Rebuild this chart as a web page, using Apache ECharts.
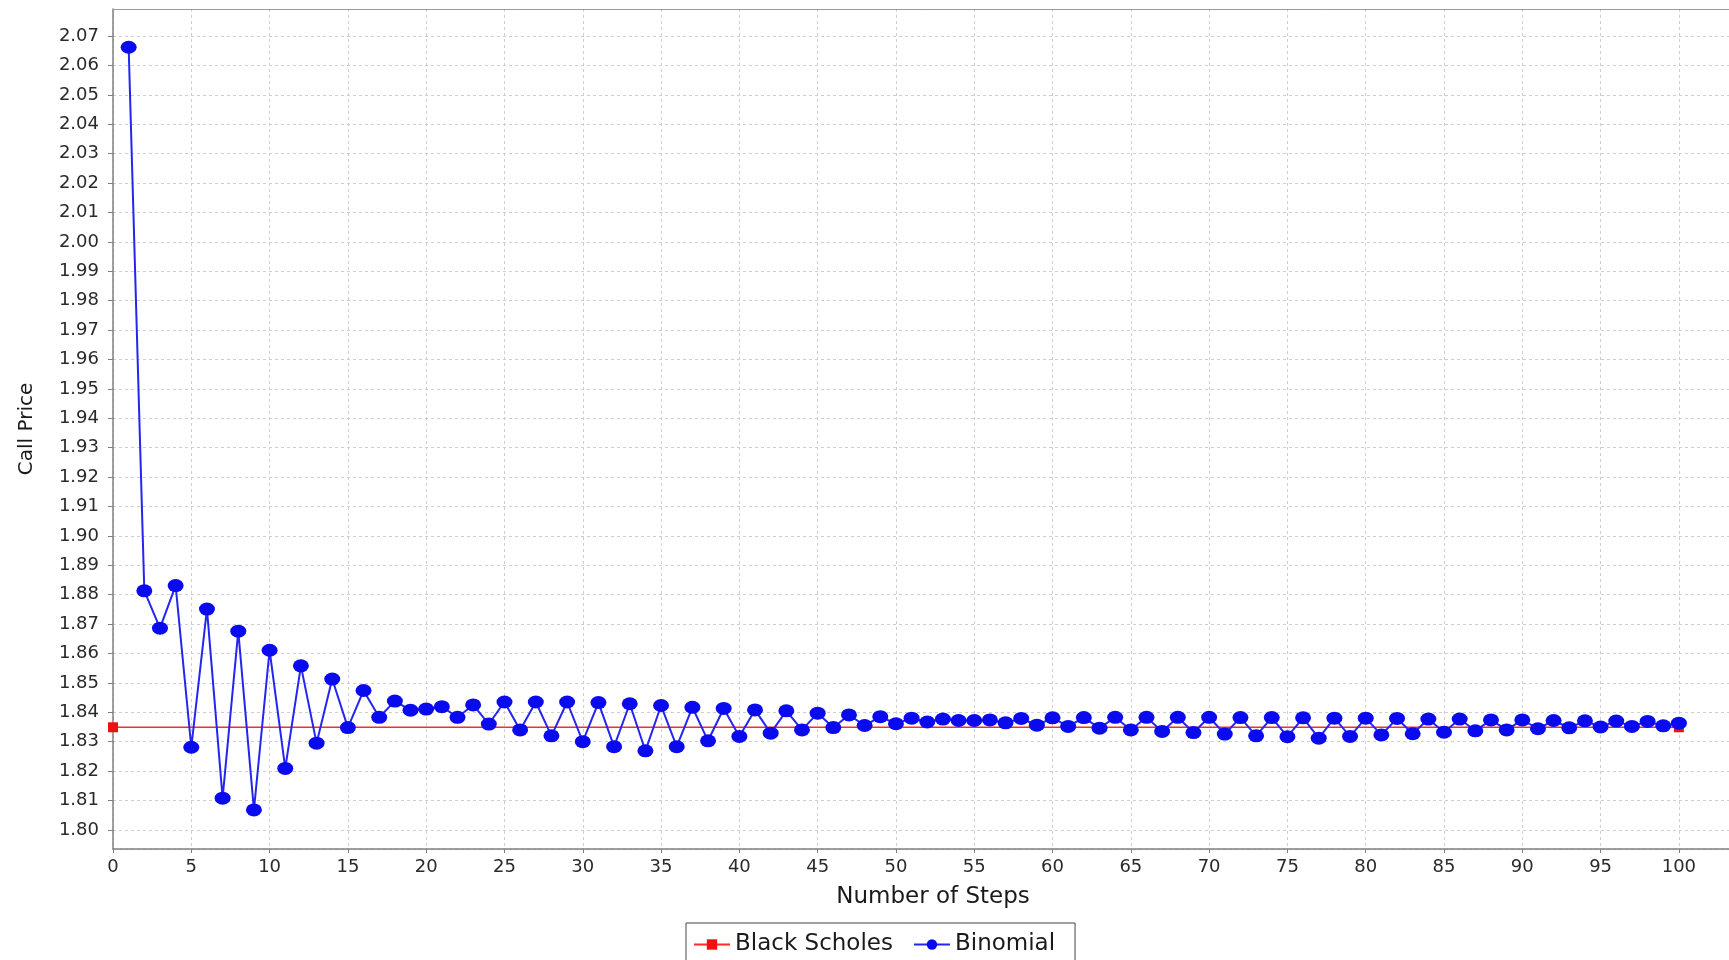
<!DOCTYPE html>
<html>
<head>
<meta charset="utf-8">
<script src="https://cdn.jsdelivr.net/npm/echarts@6/dist/echarts.min.js"></script>
<style>
html, body { margin: 0; padding: 0; background: #ffffff; }
#chart { width: 1729px; height: 960px; }
</style>
</head>
<body>
<div id="chart"></div>
<script>
// Binomial call price for number of steps 1..100
const binomialValues = [
  2.0662, 1.8813, 1.8686, 1.8831, 1.8281, 1.8751, 1.8108, 1.8676, 1.8068, 1.8611,
  1.8209, 1.8558, 1.8295, 1.8513, 1.8348, 1.8474, 1.8383, 1.8438, 1.8407, 1.8411,
  1.8419, 1.8383, 1.8425, 1.8360, 1.8435, 1.8340, 1.8435, 1.8320, 1.8435, 1.8300,
  1.8433, 1.8283, 1.8429, 1.8269, 1.8423, 1.8283, 1.8417, 1.8303, 1.8413, 1.8318,
  1.8408, 1.8329, 1.8405, 1.8340, 1.8397, 1.8348, 1.8391, 1.8355, 1.8385, 1.8361,
  1.8380, 1.8367, 1.8377, 1.8372, 1.8372, 1.8374, 1.8364, 1.8379, 1.8356, 1.8381,
  1.8352, 1.8382, 1.8346, 1.8383, 1.8340, 1.8383, 1.8335, 1.8383, 1.8331, 1.8383,
  1.8326, 1.8382, 1.8320, 1.8382, 1.8317, 1.8381, 1.8312, 1.8380, 1.8318, 1.8380,
  1.8323, 1.8379, 1.8327, 1.8377, 1.8332, 1.8377, 1.8337, 1.8374, 1.8340, 1.8374,
  1.8344, 1.8372, 1.8347, 1.8371, 1.8350, 1.8370, 1.8352, 1.8369, 1.8354, 1.8363
];
const firstStep = 1;

// Black Scholes reference price (flat line)
const blackScholesSteps = [0, 100];
const blackScholesValues = [1.8349, 1.8349];

const seriesNames = ['Black Scholes', 'Binomial'];
const xAxisTitle = 'Number of Steps';
const yAxisTitle = 'Call Price';

const binomialData = binomialValues.map((v, i) => [firstStep + i, v]);
const bsData = blackScholesSteps.map((s, i) => [s, blackScholesValues[i]]);

const FONT = 'DejaVu Sans';
const GRID_DASH = { color: '#cfcfcf', type: [3, 3], width: 1 };
const AXIS_COLOR = '#808080';
const chart = echarts.init(document.getElementById('chart'), null, { renderer: 'canvas' });

chart.setOption({
  backgroundColor: '#ffffff',
  animation: false,
  grid: {
    left: 113, right: 0, top: 9, bottom: 111,
    show: false
  },
  legend: {
    data: seriesNames,
    left: 686, top: 923,
    orient: 'horizontal',
    borderColor: '#444444', borderWidth: 1,
    padding: [10, 20, 10, 7],
    itemWidth: 36, itemHeight: 13, itemGap: 20,
    textStyle: { fontFamily: FONT, fontSize: 23, color: '#1a1a1a' }
  },
  xAxis: [
    {
      type: 'value',
      min: 0, max: 103.2, interval: 5,
      name: xAxisTitle,
      nameLocation: 'middle', nameGap: 37,
      nameTextStyle: { fontFamily: FONT, fontSize: 23, color: '#1a1a1a', padding: [0, 0, 0, 24] },
      axisLine: { show: true, onZero: false, lineStyle: { color: AXIS_COLOR, width: 1.5 } },
      axisTick: { show: true, length: 4, inside: false, lineStyle: { color: AXIS_COLOR } },
      axisLabel: {
        show: true, margin: 9, showMaxLabel: false,
        fontFamily: FONT, fontSize: 18, color: '#2a2a2a',
        formatter: v => (v % 5 === 0 && v <= 100 ? String(v) : '')
      },
      splitLine: { show: true, lineStyle: GRID_DASH }
    },
    {
      type: 'value',
      position: 'top',
      min: 0, max: 103.2,
      axisLine: { show: true, onZero: false, lineStyle: { color: '#9a9a9a', width: 1 } },
      axisTick: { show: false },
      axisLabel: { show: false },
      splitLine: { show: false }
    }
  ],
  yAxis: {
    type: 'value',
    min: 1.7935, max: 2.0792, splitNumber: 28,
    name: yAxisTitle,
    nameLocation: 'middle', nameGap: 76, nameRotate: 90,
    nameTextStyle: { fontFamily: FONT, fontSize: 20, color: '#1a1a1a' },
    axisLine: { show: true, onZero: false, lineStyle: { color: AXIS_COLOR, width: 1.5 } },
    axisTick: { show: true, length: 5, inside: false, lineStyle: { color: AXIS_COLOR } },
    axisLabel: {
      show: true, margin: 14, showMinLabel: false, showMaxLabel: false,
      fontFamily: FONT, fontSize: 18, color: '#2a2a2a',
      formatter: v => {
        const r = Math.round(v * 100) / 100;
        return Math.abs(r - v) < 1e-6 ? r.toFixed(2) : '';
      }
    },
    splitLine: { show: true, lineStyle: GRID_DASH }
  },
  series: [
    {
      name: seriesNames[0],
      type: 'line',
      xAxisIndex: 0,
      data: bsData,
      symbol: 'rect',
      symbolSize: [10, 10],
      showAllSymbol: true,
      itemStyle: { color: '#ee1111' },
      lineStyle: { color: '#ff2a2a', width: 1.5 },
      z: 2
    },
    {
      name: seriesNames[1],
      type: 'line',
      xAxisIndex: 0,
      data: binomialData,
      symbol: 'circle',
      symbolSize: [16, 13],
      showAllSymbol: true,
      itemStyle: { color: '#0a0aee' },
      lineStyle: { color: '#2525f0', width: 2 },
      z: 3
    }
  ]
});
</script>
</body>
</html>
